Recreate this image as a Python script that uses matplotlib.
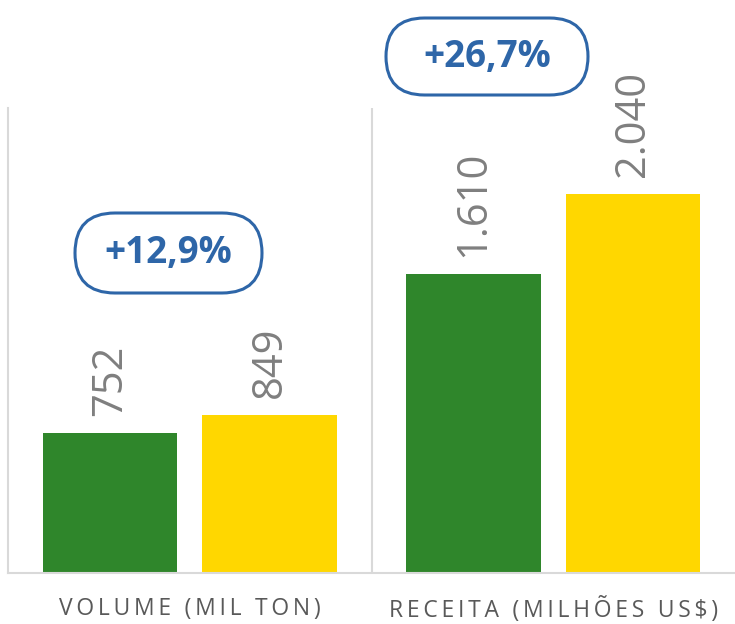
import matplotlib
matplotlib.use("Agg")
import matplotlib.pyplot as plt
from matplotlib.patches import FancyBboxPatch
import numpy as np

# data
categories = ["VOLUME (MIL TON)", "RECEITA (MILHÕES US$)"]
green_vals = [752, 1610]
yellow_vals = [849, 2040]
value_labels_green = ["752", "1.610"]
value_labels_yellow = ["849", "2.040"]
growth_labels = ["+12,9%", "+26,7%"]

green = "#2F862B"
yellow = "#FFD700"
blue = "#2E66A8"
gray = "#7F7F7F"

plt.rcParams["font.family"] = ["Open Sans", "DejaVu Sans"]

fig = plt.figure(figsize=(7.35, 6.24), dpi=100)
ax = fig.add_axes([8 / 735, 51 / 624, 1 - 8 / 735, 465 / 624])

x = np.arange(len(categories))
off = 0.22
w = 0.37
ax.bar(x - off, green_vals, w, color=green)
ax.bar(x + off, yellow_vals, w, color=yellow)

# value labels, rotated
for xi, v, s in zip(x - off, green_vals, value_labels_green):
    ax.text(xi, v + 90, s, rotation=90, ha="center", va="bottom",
            fontsize=30, color=gray)
for xi, v, s in zip(x + off, yellow_vals, value_labels_yellow):
    ax.text(xi, v + 90, s, rotation=90, ha="center", va="bottom",
            fontsize=30, color=gray)

ax.set_xlim(-0.5, 1.5)
ax.set_ylim(0, 2500)
ax.set_yticks([])
ax.set_xticks(x)
spaced = ["\u2009".join(c) for c in categories]
ax.set_xticklabels(spaced, fontsize=16.5, color="#595959")
ax.tick_params(axis="x", length=0, pad=17)

for s in ["top", "right"]:
    ax.spines[s].set_visible(False)
for s in ["left", "bottom"]:
    ax.spines[s].set_color("#D9D9D9")
    ax.spines[s].set_linewidth(1.5)
ax.axvline(0.5, color="#D9D9D9", lw=1.5)

# growth pills (inches on the figure)
pills = [(0.75, 3.31, 1.87, 0.80), (3.86, 5.29, 2.02, 0.77)]
for (px, py, pw, ph), lab in zip(pills, growth_labels):
    box = FancyBboxPatch((px, py), pw, ph,
                         boxstyle=f"round,pad=0,rounding_size={ph / 2}",
                         transform=fig.dpi_scale_trans, fill=False,
                         edgecolor=blue, linewidth=2.2, clip_on=False)
    fig.add_artist(box)
    fig.text(px + pw / 2, py + ph / 2, lab, transform=fig.dpi_scale_trans,
             ha="center", va="center", fontsize=26.5, fontweight="bold",
             color=blue)

fig.savefig("out.png", dpi=100)
